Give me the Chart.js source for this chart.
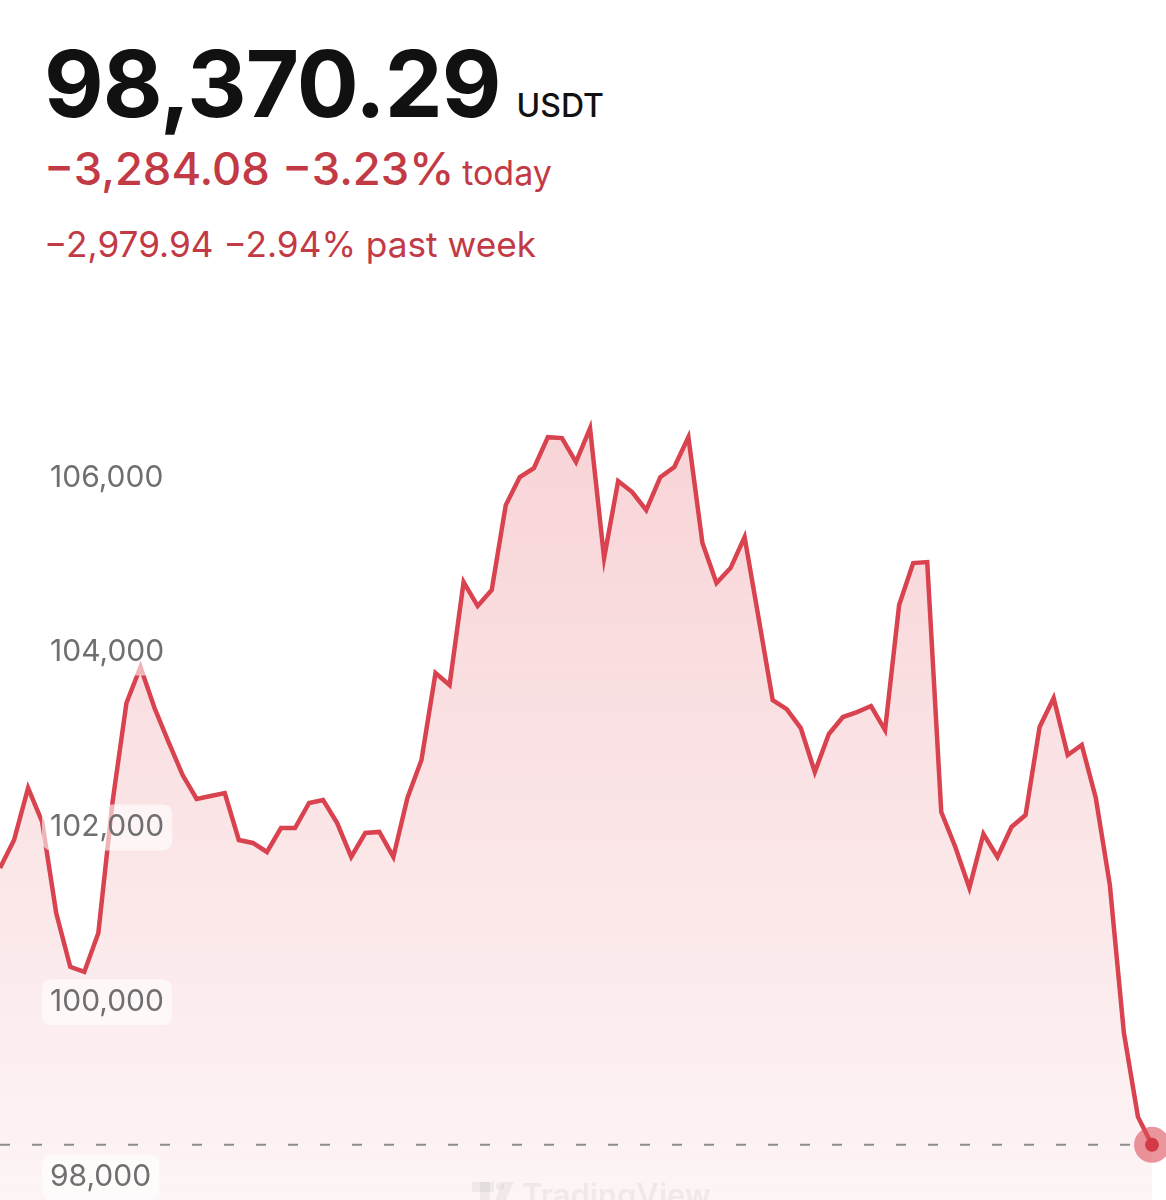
<!DOCTYPE html>
<html>
<head>
<meta charset="utf-8">
<script src="https://cdn.jsdelivr.net/npm/chart.js@4.4.1/dist/chart.umd.min.js"></script>
<style>
  body { margin: 0; background: #fff; font-family: Inter, "Noto Sans", sans-serif; width: 1166px; height: 1200px; overflow: hidden; position: relative; }
  .price { position: absolute; left: 44px; top: 38px; font-size: 92px; line-height: 92px; font-weight: 700; color: #111; letter-spacing: -1px; white-space: nowrap; }
  .price span { font-size: 32px; font-weight: 500; letter-spacing: 0; margin-left: 16px; }
  .today { position: absolute; left: 44px; top: 146px; font-size: 45.3px; line-height: 45px; font-weight: 500; color: #c23a45; white-space: nowrap; }
  .today span { font-size: 34px; font-weight: 400; margin-left: 8px; }
  .week { position: absolute; left: 44px; top: 227px; font-size: 35.2px; line-height: 34px; font-weight: 400; color: #c23a45; white-space: nowrap; }
  #wrap { position: absolute; left: 0; top: 300px; width: 1166px; height: 900px; }
</style>
</head>
<body>
<div class="price">98,370.29<span>USDT</span></div>
<div class="today">−3,284.08 −3.23%<span>today</span></div>
<div class="week">−2,979.94 −2.94% past week</div>
<div id="wrap"><canvas id="myChart" width="1166" height="900"></canvas></div>

<script>
// BTC/USDT, past week
const prices = [
  101536, 101856, 102451, 102062, 101022, 100405, 100347, 100793, 102279, 103422,
  103834, 103365, 102976, 102599, 102325, 102359, 102393, 101856, 101822, 101719,
  101993, 101993, 102279, 102313, 102050, 101662, 101936, 101948, 101662, 102336,
  102771, 103765, 103628, 104805, 104531, 104714, 105685, 106005, 106108, 106462,
  106451, 106177, 106565, 105079, 105960, 105834, 105628, 106005, 106120, 106462,
  105251, 104794, 104965, 105319, 104394, 103456, 103353, 103136, 102633, 103068,
  103262, 103319, 103388, 103113, 104542, 105022, 105034, 102176, 101776, 101308,
  101925, 101662, 102005, 102142, 103148, 103479, 102828, 102942, 102336, 101342,
  99650, 98690, 98370.29
];
const steps = prices.map((_, i) => i);
const yTicks = [98000, 100000, 102000, 104000, 106000];
const lastPrice = 98370.29;

const red = "#d8434f";
const tickFont = { family: "Inter", size: 30 };

const extras = {
  id: "extras",
  afterDatasetsDraw(chart) {
    const ctx = chart.ctx;
    const ys = chart.scales.y;
    const y = ys.getPixelForValue(lastPrice);
    const pt = chart.getDatasetMeta(0).data[prices.length - 1];

    // label backdrops (rounded, under the tick labels)
    ctx.save();
    ctx.font = "400 30px Inter";
    ctx.fillStyle = "rgba(255,255,255,0.6)";
    yTicks.forEach(v => {
      const w = ctx.measureText(v.toLocaleString("en-US")).width;
      const ty = ys.getPixelForValue(v);
      ctx.beginPath();
      ctx.roundRect(42, ty - 23, w + 16, 46, 9);
      ctx.fill();
    });
    ctx.restore();

    // last price dashed line
    ctx.save();
    ctx.strokeStyle = "#8c8c8c";
    ctx.lineWidth = 2;
    ctx.setLineDash([10, 22]);
    ctx.beginPath();
    ctx.moveTo(0, y);
    ctx.lineTo(pt.x - 22, y);
    ctx.stroke();
    ctx.restore();

    // end point halo + dot
    ctx.save();
    ctx.fillStyle = "rgba(221, 78, 90, 0.6)";
    ctx.beginPath();
    ctx.arc(pt.x, pt.y, 18, 0, Math.PI * 2);
    ctx.fill();
    ctx.fillStyle = "#d23a47";
    ctx.beginPath();
    ctx.arc(pt.x, pt.y, 7, 0, Math.PI * 2);
    ctx.fill();
    ctx.restore();

    // watermark
    ctx.save();
    ctx.fillStyle = "rgba(90, 90, 90, 0.08)";
    ctx.font = "600 31px Inter, sans-serif";
    ctx.fillText("TradingView", 522, 906);
    ctx.fillRect(472, 882, 22, 10);
    ctx.fillRect(480, 882, 10, 30);
    ctx.beginPath();
    ctx.arc(500, 886, 4, 0, Math.PI * 2);
    ctx.fill();
    ctx.beginPath();
    ctx.moveTo(503, 882); ctx.lineTo(514, 882); ctx.lineTo(500, 912); ctx.lineTo(490, 912);
    ctx.fill();
    ctx.restore();
  }
};

const chart = document.querySelector("#myChart");
new Chart(chart, {
  type: "line",
  data: {
    labels: steps,
    datasets: [{
      data: prices,
      borderColor: red,
      borderWidth: 4.5,
      pointRadius: 0,
      tension: 0,
      fill: "start",
      backgroundColor: (c) => {
        const area = c.chart.chartArea;
        if (!area) return "rgba(220,70,80,0.15)";
        const g = c.chart.ctx.createLinearGradient(0, area.top, 0, area.bottom);
        g.addColorStop(0, "rgba(226, 80, 92, 0.28)");
        g.addColorStop(1, "rgba(226, 80, 92, 0.06)");
        return g;
      }
    }]
  },
  options: {
    responsive: false,
    animation: false,
    layout: { padding: { top: 0, right: 14, bottom: 0, left: 0 } },
    scales: {
      x: { display: false, offset: false },
      y: {
        min: 97740,
        max: 108030,
        border: { display: false },
        grid: { display: false, drawTicks: false },
        afterBuildTicks: (s) => { s.ticks = yTicks.map(v => ({ value: v })); },
        afterFit: (s) => { s.width = 0; s.paddingTop = 0; s.paddingBottom = 0; },
        ticks: {
          z: 1,
          mirror: true,
          padding: 50,
          color: "#6f6f6f",
          font: tickFont,
          callback: (v) => v.toLocaleString("en-US")
        }
      }
    },
    plugins: {
      legend: { display: false },
      tooltip: { enabled: false }
    }
  },
  plugins: [extras]
});
</script>
</body>
</html>
